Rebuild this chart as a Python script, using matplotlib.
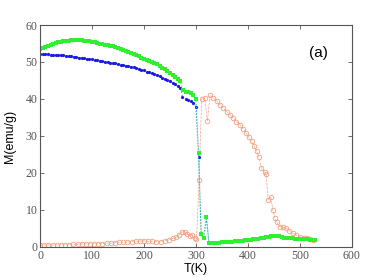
import numpy as np
import matplotlib
matplotlib.use('Agg')
import matplotlib.pyplot as plt

# green squares (upper branch)
green_T = [0, 5, 10, 15, 20, 25, 30, 35, 40, 45, 50, 55, 60, 65, 70, 75, 80, 85, 90, 95,
           100, 105, 110, 115, 120, 125, 130, 135, 140, 145, 150, 155, 160, 165, 170, 175,
           180, 185, 190, 195, 200, 205, 210, 215, 220, 225, 230, 235, 240, 245, 250, 255,
           260, 265, 270, 275, 280, 285, 290, 295, 300, 305, 310, 315, 320, 325,
           330, 335, 340, 345, 350, 355, 360, 365, 370, 375, 380, 385, 390, 395, 400, 405,
           410, 415, 420, 425, 430, 435, 440, 445, 450, 455, 460, 465, 470, 475, 480, 485,
           490, 495, 500, 505, 510, 515, 520, 525, 530]
green_M = [53.6, 53.8, 54.0, 54.3, 54.6, 54.9, 55.1, 55.3, 55.5, 55.6, 55.7, 55.8, 55.9, 55.9,
           56.0, 56.0, 55.9, 55.8, 55.7, 55.6, 55.4, 55.3, 55.2, 55.0, 54.9, 54.7, 54.6, 54.4,
           54.2, 54.0, 53.8, 53.5, 53.3, 53.1, 52.8, 52.5, 52.2, 51.9, 51.6, 51.2, 50.9, 50.6,
           50.3, 50.0, 49.8, 49.4, 49.0, 48.5, 48.0, 47.5, 47.0, 46.5, 46.0, 45.4, 44.8, 42.3,
           42.0, 41.9, 41.7, 41.0, 40.0, 25.4, 3.5, 2.4, 8.2, 1.0,
           1.0, 1.0, 1.1, 1.1, 1.2, 1.2, 1.3, 1.3, 1.4, 1.5, 1.6, 1.6, 1.7, 1.8, 1.9, 1.9,
           2.0, 2.1, 2.2, 2.3, 2.5, 2.6, 2.8, 2.9, 3.0, 3.0, 2.9, 2.7, 2.5, 2.4, 2.3, 2.3,
           2.2, 2.2, 2.1, 2.1, 2.0, 2.0, 1.9, 1.8, 1.8]

# blue circles
blue_T = [0, 5, 10, 15, 20, 25, 30, 35, 40, 45, 50, 55, 60, 65, 70, 75, 80, 85, 90, 95,
          100, 105, 110, 115, 120, 125, 130, 135, 140, 145, 150, 155, 160, 165, 170, 175,
          180, 185, 190, 195, 200, 205, 210, 215, 220, 225, 230, 235, 240, 245, 250, 255,
          260, 265, 270, 274, 280, 285, 290, 295, 300, 305, 310, 315, 320, 325,
          350, 400, 450, 500, 530]
blue_M = [52.2, 52.2, 52.1, 52.1, 52.0, 52.0, 51.9, 51.9, 51.8, 51.8, 51.7, 51.6, 51.5, 51.4,
          51.3, 51.2, 51.1, 51.0, 50.9, 50.8, 50.7, 50.6, 50.5, 50.4, 50.3, 50.1, 50.0, 49.8,
          49.7, 49.6, 49.5, 49.3, 49.2, 49.0, 48.9, 48.7, 48.6, 48.3, 48.1, 47.9, 47.7, 47.4,
          47.2, 46.9, 46.7, 46.4, 46.2, 45.8, 45.5, 45.1, 44.8, 44.4, 44.0, 43.5, 42.9, 40.6,
          40.0, 39.8, 39.5, 38.8, 37.9, 24.3, 3.4, 2.3, 8.0, 1.0,
          1.2, 1.9, 3.0, 2.1, 1.8]

# orange open circles
orange_T = [0, 8, 16, 24, 32, 40, 48, 56, 64, 72, 80, 88, 96, 104, 112, 120, 128, 136, 144,
            152, 160, 168, 176, 184, 192, 200, 208, 216, 224, 232, 240, 248, 256, 262, 268,
            273, 278, 283, 288, 293, 298, 301, 306, 311, 317, 322, 327, 333, 340, 346, 352,
            359, 365, 372, 378, 385, 391, 397, 402, 407, 412, 417, 421, 426, 432, 435, 439,
            444, 448, 452, 456, 461, 467, 474, 480, 487, 493, 500, 507, 513, 520, 526]
orange_M = [0.5, 0.5, 0.5, 0.5, 0.5, 0.6, 0.6, 0.6, 0.7, 0.7, 0.8, 0.8, 0.9, 0.9, 0.9, 0.9,
            1.0, 1.0, 1.1, 1.2, 1.2, 1.3, 1.4, 1.5, 1.6, 1.6, 1.5, 1.5, 1.4, 1.4, 1.6, 1.9,
            2.3, 2.6, 3.3, 4.0, 4.1, 3.5, 3.0, 3.2, 2.3, 2.0, 18.0, 40.0, 40.3, 34.0, 41.0,
            40.3, 39.5, 38.5, 37.6, 36.6, 35.7, 34.8, 33.9, 33.0, 31.9, 30.7, 29.6, 28.5,
            27.2, 25.8, 24.4, 21.3, 20.3, 19.6, 12.7, 13.6, 10.0, 7.8, 6.6, 5.5, 5.3, 5.0,
            4.3, 3.7, 3.2, 2.8, 2.5, 2.3, 2.1, 1.9]

fig = plt.figure(figsize=(3.82, 2.78), dpi=100)
ax = fig.add_axes([0.105, 0.112, 0.816, 0.798])

ax.plot(orange_T, orange_M, linestyle='--', lw=0.5, color='#f2a488',
        marker='o', ms=3.3, mfc='none', mec='#f0a080', mew=0.6)
ax.plot(blue_T, blue_M, linestyle=':', lw=0.8, color='#3aa0c8',
        marker='o', ms=2.3, mfc='#1a1ae0', mec='#1a1ae0', mew=0)
ax.plot(green_T, green_M, linestyle=':', lw=0.8, color='#40c0a0',
        marker='s', ms=2.6, mfc='#2ef02e', mec='#2ef02e', mew=0)

ax.set_xlim(0, 600)
ax.set_ylim(0, 60)
ax.set_xticks(np.arange(0, 601, 100))
ax.set_yticks(np.arange(0, 61, 10))
ax.tick_params(direction='in', length=3, width=0.6, color='#555555',
               top=True, right=True, labelsize=8.5, labelcolor='#555555', pad=2)
for lab in ax.get_xticklabels() + ax.get_yticklabels():
    lab.set_family('Liberation Serif')
for s in ax.spines.values():
    s.set_color('#555555')
    s.set_linewidth(0.8)

ax.set_xlabel('T(K)', fontsize=9, family='Liberation Sans', labelpad=1)
ax.set_ylabel('M(emu/g)', fontsize=9, family='Liberation Sans', labelpad=7)
ax.text(535, 52.5, '(a)', fontsize=11, family='Liberation Sans', ha='center', va='center')

fig.savefig('out.png', dpi=100)
